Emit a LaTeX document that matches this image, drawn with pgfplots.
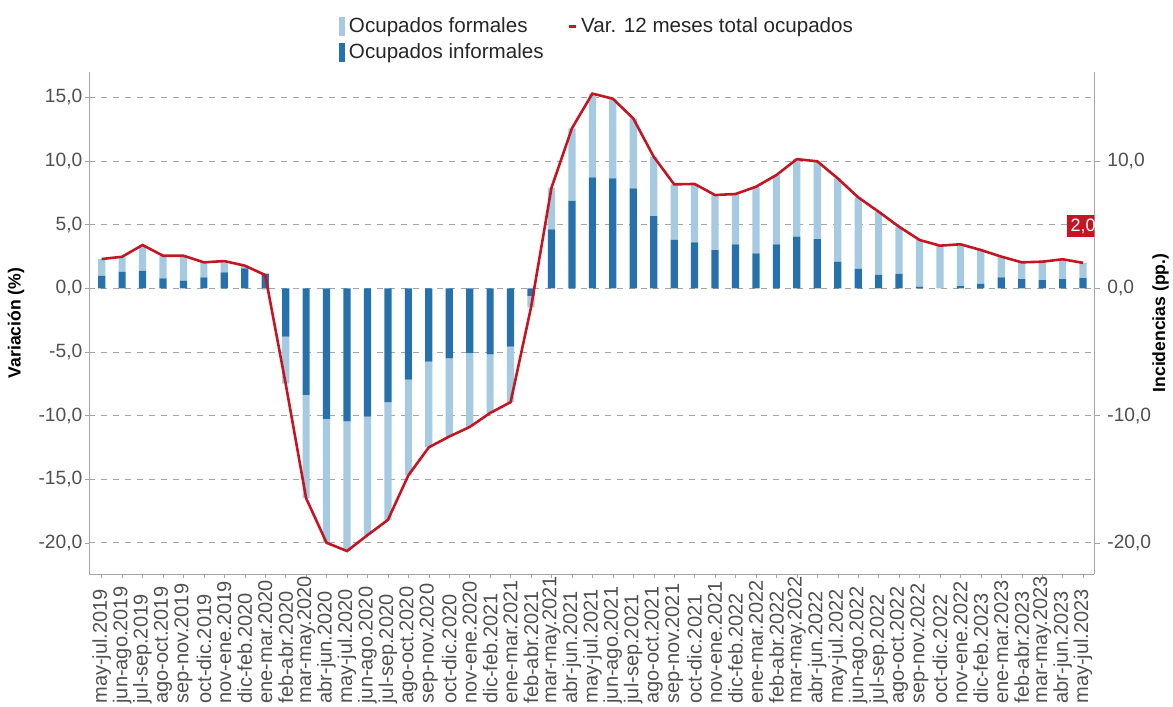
\documentclass[border=0pt]{standalone}
\usepackage{fontspec}
\setmainfont{Liberation Sans}
\usepackage{pgfplots}
\usepackage{pgfplotstable}
\pgfplotsset{compat=1.18}
\usetikzlibrary{calc}

\definecolor{formal}{RGB}{166,202,225}
\definecolor{informal}{RGB}{38,113,172}
\definecolor{varline}{RGB}{196,22,34}
\definecolor{boxred}{RGB}{196,22,34}
\definecolor{tickgray}{RGB}{80,80,80}
\definecolor{axisgray}{RGB}{165,165,165}

% idx: periodo movil, inf/form: incidencias (pp.), tot: var. 12 meses (%)
\pgfplotstableread{
idx inf form tot
0 0.97 1.33 2.30
1 1.30 1.18 2.48
2 1.36 2.04 3.40
3 0.78 1.78 2.56
4 0.60 1.96 2.56
5 0.86 1.18 2.04
6 1.26 0.88 2.14
7 1.57 0.21 1.78
8 1.15 -0.11 1.04
9 -3.80 -3.70 -7.50
10 -8.38 -8.12 -16.50
11 -10.26 -9.74 -20.00
12 -10.45 -10.20 -20.65
13 -10.08 -9.32 -19.40
14 -8.95 -9.25 -18.20
15 -7.17 -7.53 -14.70
16 -5.76 -6.74 -12.50
17 -5.50 -6.15 -11.65
18 -5.08 -5.82 -10.90
19 -5.20 -4.60 -9.80
20 -4.58 -4.37 -8.95
21 -0.60 -0.90 -1.50
22 4.63 3.27 7.90
23 6.88 5.69 12.57
24 8.72 6.58 15.30
25 8.64 6.26 14.90
26 7.85 5.50 13.35
27 5.68 4.66 10.34
28 3.80 4.37 8.17
29 3.61 4.59 8.20
30 3.01 4.32 7.33
31 3.46 3.95 7.41
32 2.75 5.23 7.98
33 3.46 5.44 8.90
34 4.06 6.09 10.15
35 3.86 6.12 9.98
36 2.09 6.55 8.64
37 1.52 5.63 7.15
38 1.05 4.97 6.02
39 1.13 3.71 4.84
40 0.13 3.67 3.80
41 0.00 3.35 3.35
42 0.18 3.28 3.46
43 0.34 2.67 3.01
44 0.86 1.63 2.49
45 0.73 1.31 2.04
46 0.65 1.44 2.09
47 0.73 1.55 2.28
48 0.79 1.21 2.00
}\datos

\begin{document}
\begin{tikzpicture}
\begin{axis}[
  name=main,
  scale only axis,
  width=502.5pt, height=251pt,
  ybar stacked,
  bar width=3.6pt,
  xmin=-0.6, xmax=48.55,
  ymin=-22.45, ymax=17,
  axis y line*=left,
  axis x line*=bottom,
  axis line style={axisgray, -},
  xtick={0,...,48},
  xticklabels={may-jul.2019,jun-ago.2019,jul-sep.2019,ago-oct.2019,sep-nov.2019,oct-dic.2019,nov-ene.2019,dic-feb.2020,ene-mar.2020,feb-abr.2020,mar-may.2020,abr-jun.2020,may-jul.2020,jun-ago.2020,jul-sep.2020,ago-oct.2020,sep-nov.2020,oct-dic.2020,nov-ene.2020,dic-feb.2021,ene-mar.2021,feb-abr.2021,mar-may.2021,abr-jun.2021,may-jul.2021,jun-ago.2021,jul-sep.2021,ago-oct.2021,sep-nov.2021,oct-dic.2021,nov-ene.2021,dic-feb.2022,ene-mar.2022,feb-abr.2022,mar-may.2022,abr-jun.2022,may-jul.2022,jun-ago.2022,jul-sep.2022,ago-oct.2022,sep-nov.2022,oct-dic.2022,nov-ene.2022,dic-feb.2023,ene-mar.2023,feb-abr.2023,mar-may.2023,abr-jun.2023,may-jul.2023},
  x tick label style={yshift=-63pt, rotate=90, anchor=west, inner sep=0pt,
    font=\fontsize{10}{11}\selectfont, text=tickgray},
  xtick style={axisgray},
  major tick length=2pt,
  tick align=outside,
  ytick={-20,-15,...,15},
  yticklabels={{-20,0},{-15,0},{-10,0},{-5,0},{0,0},{5,0},{10,0},{15,0}},
  y tick label style={xshift=2pt, font=\fontsize{9.6}{11}\selectfont, text=tickgray},
  ytick style={axisgray},
  ymajorgrids,
  grid style={dashed, axisgray},
  ylabel={\textbf{Variación (\%)}},
  ylabel style={at={(axis description cs:-0.073,0.5)}, anchor=center, font=\fontsize{8.8}{10}\selectfont},
  legend columns=2,
  legend cell align=left,
  legend style={at={(0.506,1)}, anchor=south, yshift=3pt, draw=none, fill=none,
    font=\fontsize{10.3}{12}\selectfont, text=black!85, inner sep=0pt,
    /tikz/every even column/.append style={column sep=10pt}},
]
\addlegendimage{legend image code/.code={\fill[formal] (0pt,-4.5pt) rectangle (2.7pt,4.5pt);}}
\addlegendentry{Ocupados formales}
\addlegendimage{legend image code/.code={\draw[varline, line width=1.3pt] (0pt,0pt) -- (3.5pt,0pt);}}
\addlegendentry{Var. 12 meses total ocupados}
\addlegendimage{legend image code/.code={\fill[informal] (0pt,-4.5pt) rectangle (2.7pt,4.5pt);}}
\addlegendentry{Ocupados informales}

\addplot[fill=informal, draw=none] table[x=idx, y=inf] {\datos};
\addplot[fill=formal, draw=none] table[x=idx, y=form] {\datos};
\end{axis}

\begin{axis}[
  scale only axis,
  width=502.5pt, height=251pt,
  xmin=-0.6, xmax=48.55,
  ymin=-22.45, ymax=17,
  axis x line=none,
  axis y line*=right,
  axis line style={axisgray, -},
  ytick={-20,-10,0,10},
  yticklabels={{-20,0},{-10,0},{0,0},{10,0}},
  y tick label style={font=\fontsize{9.6}{11}\selectfont, text=tickgray},
  ytick style={axisgray},
  major tick length=3pt,
  tick align=outside,
  ylabel={\textbf{Incidencias (pp.)}},
  ylabel style={at={(axis description cs:1.066,0.5)}, anchor=center, font=\fontsize{8.8}{10}\selectfont},
]
\addplot[varline, line width=1.3pt, mark=none] table[x=idx, y=tot] {\datos};
\node[fill=boxred, text=white, inner sep=1.8pt, font=\fontsize{9}{10}\selectfont] at (axis cs:48,4.9) {2,0};
\end{axis}

\pgfresetboundingbox
\path[use as bounding box] ($(main.south west)+(-44.7pt,-66.5pt)$) rectangle ($(main.north east)+(39.35pt,36pt)$);
\end{tikzpicture}
\end{document}
